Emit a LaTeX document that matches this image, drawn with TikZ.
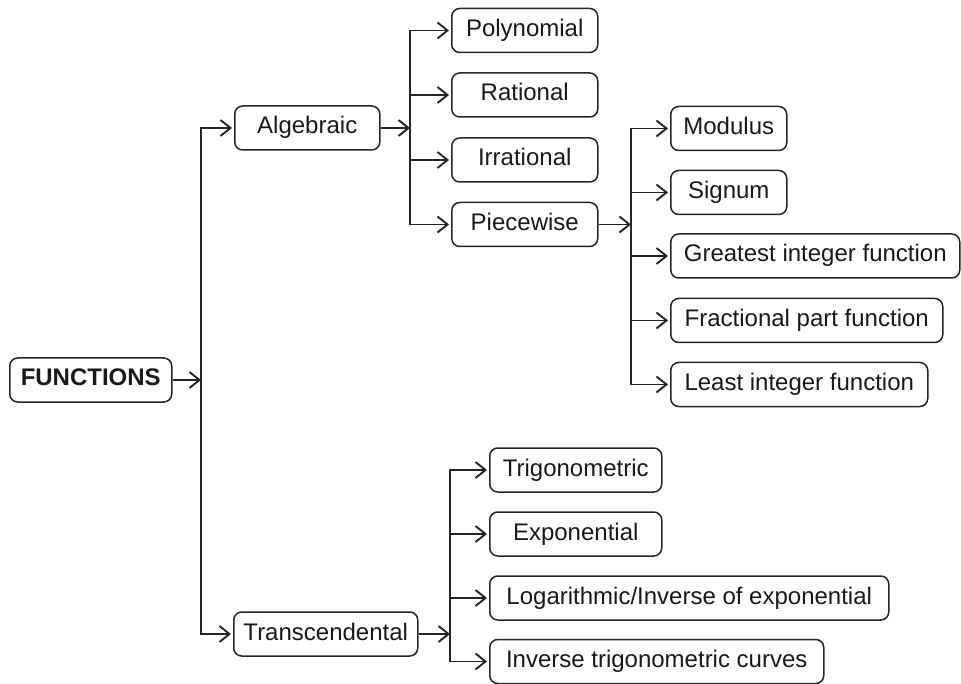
\documentclass[tikz,border=0pt]{standalone}
\usepackage{fontspec}
\setmainfont{Liberation Sans}
\usetikzlibrary{arrows.meta}
\begin{document}
\begin{tikzpicture}[x=1pt,y=-1pt,
  tip/.tip={Straight Barb[length=10pt,width=16pt,line width=1.9pt]},
  box/.style={draw=black!85, line width=1.5pt, rounded corners=8pt, inner sep=0pt,
    text height=17pt, text depth=5pt, minimum height=44pt, anchor=west,
    font=\fontsize{24}{28}\selectfont, text=black!90, align=center},
  ln/.style={draw=black!85, line width=1.7pt},
  arr/.style={ln, -tip, shorten >=2pt},
  arrin/.style={ln, -tip},
  biarr/.style={ln, tip-tip, shorten >=2pt, shorten <=2pt}]
\useasboundingbox (0,0) rectangle (961,684);
% nodes
\node[box, minimum width=162pt, font=\fontsize{24}{28}\selectfont\bfseries] (F) at (9,380) {FUNCTIONS};
\node[box, minimum width=145pt] (Alg) at (234,128) {Algebraic};
\node[box, minimum width=184pt] (Tra) at (233,634) {Transcendental};
\node[box, minimum width=146pt] (Pol) at (451,30.5) {Polynomial};
\node[box, minimum width=146pt] (Rat) at (451,95) {Rational};
\node[box, minimum width=146pt] (Irr) at (451,160) {Irrational};
\node[box, minimum width=146pt] (Pie) at (451,224.5) {Piecewise};
\node[box, minimum width=116pt] (Mod) at (670,128.5) {Modulus};
\node[box, minimum width=116pt] (Sig) at (670,192.5) {Signum};
\node[box, minimum width=289pt] (Gre) at (670,256) {Greatest integer function};
\node[box, minimum width=272pt] (Fra) at (670,320.5) {Fractional part function};
\node[box, minimum width=257pt] (Lea) at (670,384.5) {Least integer function};
\node[box, minimum width=172pt] (Tri) at (489,470) {Trigonometric};
\node[box, minimum width=172pt] (Exp) at (489,534) {Exponential};
\node[box, minimum width=399pt] (Log) at (489,598) {Logarithmic/Inverse of exponential};
\node[box, minimum width=334pt] (Inv) at (489,661.5) {Inverse trigonometric curves};
% bus coordinates
\coordinate (b0) at (201,0);
\coordinate (b1) at (410,0);
\coordinate (b2) at (631,0);
\coordinate (b3) at (450,0);
% FUNCTIONS
\draw[arrin] (F.east) -- (b0 |- F.east);
\draw[biarr] (Alg.west) -- (Alg.west -| b0) -- (Tra.west -| b0) -- (Tra.west);
% Algebraic
\draw[arrin] (Alg.east) -- (b1 |- Alg.east);
\draw[biarr] (Pol.west) -- (Pol.west -| b1) -- (Pie.west -| b1) -- (Pie.west);
\draw[arr] (b1 |- Rat.west) -- (Rat.west);
\draw[arr] (b1 |- Irr.west) -- (Irr.west);
% Piecewise
\draw[arrin] (Pie.east) -- (b2 |- Pie.east);
\draw[biarr] (Mod.west) -- (Mod.west -| b2) -- (Lea.west -| b2) -- (Lea.west);
\draw[arr] (b2 |- Sig.west) -- (Sig.west);
\draw[arr] (b2 |- Gre.west) -- (Gre.west);
\draw[arr] (b2 |- Fra.west) -- (Fra.west);
% Transcendental
\draw[arrin] (Tra.east) -- (b3 |- Tra.east);
\draw[biarr] (Tri.west) -- (Tri.west -| b3) -- (Inv.west -| b3) -- (Inv.west);
\draw[arr] (b3 |- Exp.west) -- (Exp.west);
\draw[arr] (b3 |- Log.west) -- (Log.west);
\end{tikzpicture}
\end{document}
